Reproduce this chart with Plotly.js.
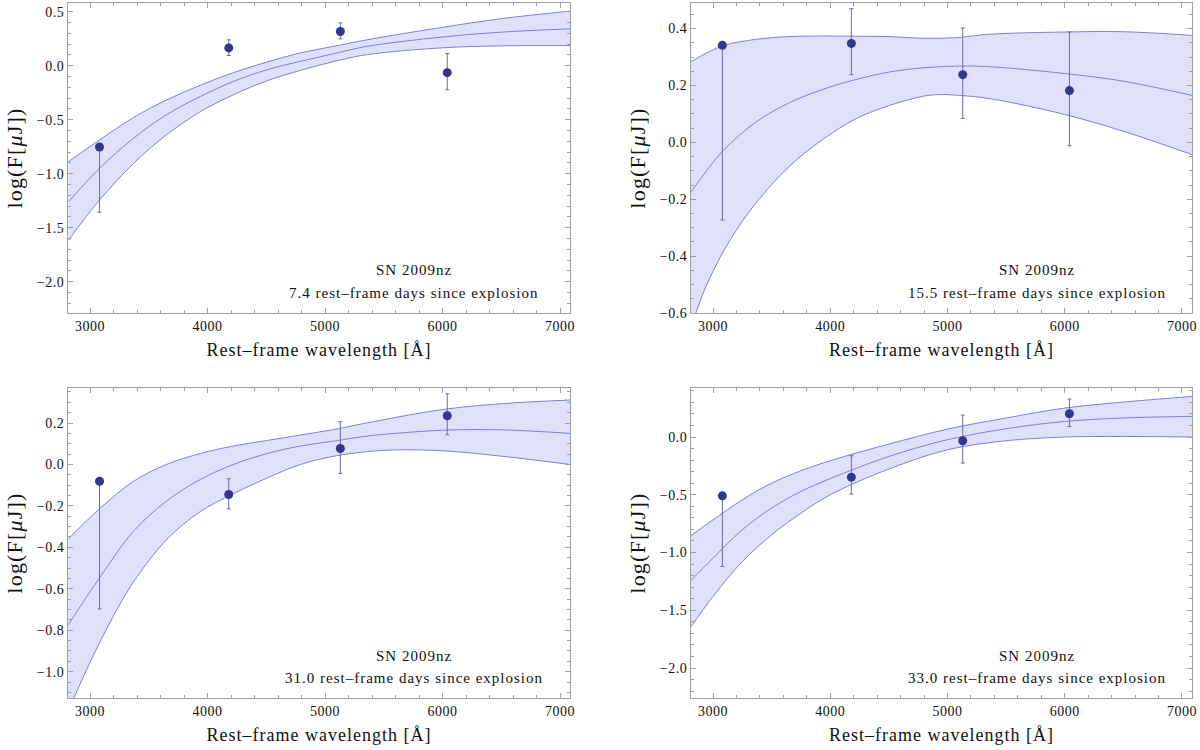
<!DOCTYPE html>
<html>
<head>
<meta charset="utf-8">
<script src="https://cdn.plot.ly/plotly-3.0.1.min.js"></script>
<style>
  html, body { margin: 0; padding: 0; background: #fff; }
  #chart { width: 1200px; height: 750px; }
  /* Mathematica-style loose letter spacing on the labels */
  .annotation-text { letter-spacing: 1px; }
  .xtitle, .x2title, .x3title, .x4title { letter-spacing: 1px; }
  .ytitle, .y2title, .y3title, .y4title { letter-spacing: 1.2px; }
  g[class$="tick"] text { letter-spacing: 0.5px; }
</style>
</head>
<body>
<div id="chart"></div>
<script>
// ── Data ─────────────────────────────────────────────────────────────────────
const bandWave = [3080, 4180, 5130, 6040];
const epochs   = ['7.4', '15.5', '31.0', '33.0'];

// panel 1 — 7.4 d
const p1Wave     = [2815, 3080, 3370, 3650, 3940, 4220, 4510, 4790, 5080, 5360, 6000, 6500, 7085];
const p1Upper    = [-0.889, -0.688, -0.480, -0.318, -0.180, -0.065, 0.035, 0.118, 0.180, 0.240, 0.355, 0.435, 0.505];
const p1Mid      = [-1.261, -0.951, -0.672, -0.455, -0.285, -0.146, -0.037, 0.040, 0.112, 0.179, 0.265, 0.310, 0.341];
const p1Lower    = [-1.617, -1.245, -0.904, -0.641, -0.425, -0.270, -0.139, -0.044, 0.040, 0.102, 0.165, 0.183, 0.186];
const p1Flux     = [-0.753, 0.164, 0.316, -0.065];
const p1ErrPlus  = [0, 0.075, 0.08, 0.177];
const p1ErrMinus = [0.604, 0.07, 0.068, 0.158];

// panel 2 — 15.5 d
const p2Wave      = [2812, 3080, 3365, 3650, 3935, 4220, 4500, 4790, 5070, 5355, 6000, 6500, 7085];
const p2Upper     = [0.284, 0.339, 0.362, 0.372, 0.374, 0.373, 0.372, 0.366, 0.368, 0.380, 0.388, 0.389, 0.376];
const p2Mid       = [-0.175, -0.032, 0.071, 0.139, 0.186, 0.221, 0.247, 0.262, 0.268, 0.266, 0.242, 0.215, 0.165];
const p2LowerWave = [2812, 2875, 2940, 3080, 3220, 3365, 3650, 3935, 4220, 4500, 4790, 4930, 5070, 5355, 6000, 6500, 7085];
const p2Lower     = [-0.652, -0.576, -0.507, -0.39, -0.296, -0.214, -0.085, 0.01, 0.083, 0.129, 0.162, 0.168, 0.166, 0.154, 0.098, 0.039, -0.043];
const p2Flux      = [0.341, 0.348, 0.238, 0.182];
const p2ErrPlus   = [0, 0.122, 0.164, 0.206];
const p2ErrMinus  = [0.614, 0.11, 0.154, 0.194];

// panel 3 — 31.0 d
const p3Wave      = [2815, 3080, 3370, 3650, 3940, 4220, 4510, 4790, 5080, 5360, 6000, 6500, 7085];
const p3Upper     = [-0.359, -0.214, -0.081, 0.0, 0.053, 0.089, 0.116, 0.142, 0.169, 0.201, 0.265, 0.293, 0.311];
const p3Mid       = [-0.773, -0.547, -0.322, -0.177, -0.072, 0.0, 0.053, 0.089, 0.113, 0.137, 0.165, 0.167, 0.15];
const p3LowerWave = [2812, 2886, 2972, 3080, 3228, 3370, 3654, 3939, 4180, 4508, 4792, 5077, 5361, 5600, 6000, 6500, 7085];
const p3Lower     = [-1.192, -1.096, -0.988, -0.861, -0.701, -0.566, -0.361, -0.227, -0.152, -0.065, 0.0, 0.04, 0.062, 0.07, 0.066, 0.04, 0.0];
const p3Flux      = [-0.081, -0.145, 0.077, 0.235];
const p3ErrPlus   = [0, 0.076, 0.129, 0.106];
const p3ErrMinus  = [0.616, 0.069, 0.12, 0.092];

// panel 4 — 33.0 d
const p4Wave     = [2810, 3000, 3250, 3500, 3750, 4000, 4500, 5000, 5500, 6000, 6500, 7085];
const p4Upper    = [-0.855, -0.717, -0.543, -0.399, -0.292, -0.205, -0.061, 0.069, 0.165, 0.251, 0.303, 0.352];
const p4Mid      = [-1.243, -1.049, -0.803, -0.615, -0.471, -0.36, -0.168, -0.023, 0.072, 0.135, 0.165, 0.179];
const p4Lower    = [-1.646, -1.381, -1.078, -0.847, -0.659, -0.5, -0.277, -0.11, -0.032, 0.0, 0.005, 0.0];
const p4Flux     = [-0.509, -0.347, -0.032, 0.202];
const p4ErrPlus  = [0, 0.185, 0.222, 0.127];
const p4ErrMinus = [0.612, 0.147, 0.193, 0.11];

// ── Styling ──────────────────────────────────────────────────────────────────
const LINE  = '#7f7fdc';
const FILL  = 'rgba(214,214,250,0.75)';
const DOT   = '#35358f';
const FRAME = '#a0a0a0';
const FONT  = 'Liberation Serif, Times New Roman, serif';

const panels = [
  { w: p1Wave, wLo: p1Wave, up: p1Upper, mid: p1Mid, lo: p1Lower,
    flux: p1Flux, ep: p1ErrPlus, em: p1ErrMinus, yr: [-2.29, 0.58], dt: 0.5, mdt: 0.1 },
  { w: p2Wave, wLo: p2LowerWave, up: p2Upper, mid: p2Mid, lo: p2Lower,
    flux: p2Flux, ep: p2ErrPlus, em: p2ErrMinus, yr: [-0.6, 0.49], dt: 0.2, mdt: 0.05 },
  { w: p3Wave, wLo: p3LowerWave, up: p3Upper, mid: p3Mid, lo: p3Lower,
    flux: p3Flux, ep: p3ErrPlus, em: p3ErrMinus, yr: [-1.127, 0.369], dt: 0.2, mdt: 0.05 },
  { w: p4Wave, wLo: p4Wave, up: p4Upper, mid: p4Mid, lo: p4Lower,
    flux: p4Flux, ep: p4ErrPlus, em: p4ErrMinus, yr: [-2.26, 0.425], dt: 0.5, mdt: 0.1 },
];

const xDomains = [[0.0567, 0.475], [0.5758, 0.9933], [0.0567, 0.475], [0.5758, 0.9933]];
const yDomains = [[0.5827, 0.996], [0.5827, 0.996], [0.0693, 0.4827], [0.0693, 0.4827]];

function curve(x, y, n, fill) {
  return {
    x: x, y: y, xaxis: 'x' + n, yaxis: 'y' + n,
    type: 'scatter', mode: 'lines',
    line: { color: LINE, width: 1, shape: 'spline', smoothing: 1 },
    fill: fill || 'none', fillcolor: FILL,
    hoverinfo: 'skip', showlegend: false,
  };
}

const traces = [];
panels.forEach((p, i) => {
  const n = i === 0 ? '' : String(i + 1);
  traces.push(curve(p.wLo, p.lo, n));
  traces.push(curve(p.w, p.up, n, 'tonexty'));
  traces.push(curve(p.w, p.mid, n));
  traces.push({
    x: bandWave, y: p.flux, xaxis: 'x' + n, yaxis: 'y' + n,
    type: 'scatter', mode: 'markers',
    marker: { color: DOT, size: 9 },
    error_y: { type: 'data', symmetric: false, array: p.ep, arrayminus: p.em,
               color: '#6a6aa8', thickness: 1, width: 2 },
    showlegend: false,
  });
});

function axisBase() {
  return {
    showline: true, mirror: 'allticks', linecolor: FRAME, linewidth: 1,
    ticks: 'inside', ticklen: 5, tickcolor: FRAME, tickwidth: 1,
    showgrid: false, zeroline: false,
    tickfont: { family: FONT, size: 14, color: '#111' },
    minor: { ticks: 'inside', ticklen: 3, tickcolor: FRAME, showgrid: false },
  };
}

const layout = {
  width: 1200, height: 750,
  margin: { l: 0, r: 0, t: 0, b: 0 },
  paper_bgcolor: '#fff', plot_bgcolor: '#fff',
  font: { family: FONT, color: '#111' },
  showlegend: false,
  annotations: [],
};

panels.forEach((p, i) => {
  const n = i === 0 ? '' : String(i + 1);
  layout['xaxis' + n] = Object.assign(axisBase(), {
    domain: xDomains[i], anchor: 'y' + n,
    range: [2812, 7085], dtick: 1000, tick0: 0,
    minor: Object.assign(axisBase().minor, { dtick: 200 }),
    title: { text: 'Rest\u2013frame wavelength [\u00c5]', font: { family: FONT, size: 18 }, standoff: 10 },
  });
  layout['yaxis' + n] = Object.assign(axisBase(), {
    domain: yDomains[i], anchor: 'x' + n,
    range: p.yr, dtick: p.dt, tick0: 0, tickformat: '.1f',
    minor: Object.assign(axisBase().minor, { dtick: p.mdt }),
    title: { text: 'log(F[<i>\u03bc</i>J])', font: { family: FONT, size: 22 }, standoff: 8 },
  });
  const yTop = i < 2 ? 0.139 : 0.134;
  const ann = { xref: 'x' + n + ' domain', yref: 'y' + n + ' domain', x: 0.69,
                xanchor: 'center', yanchor: 'middle', showarrow: false,
                font: { family: FONT, size: 15, color: '#111' } };
  layout.annotations.push(
    Object.assign({}, ann, { y: yTop, text: 'SN 2009nz' }),
    Object.assign({}, ann, { y: 0.064, text: epochs[i] + ' rest\u2013frame days since explosion' })
  );
});

Plotly.newPlot('chart', traces, layout, { displayModeBar: false, staticPlot: true });
</script>
</body>
</html>
